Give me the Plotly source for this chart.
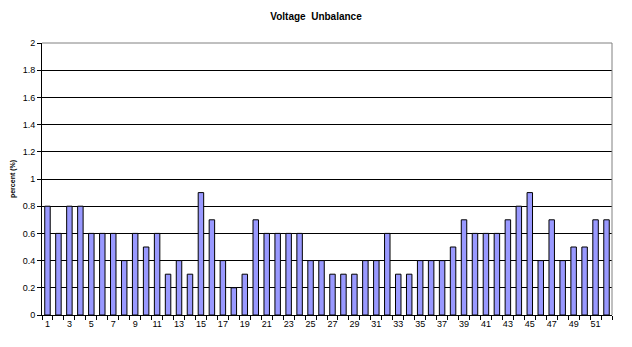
import plotly.graph_objects as go

weeks = list(range(1, 53))
unbalance = [0.8, 0.6, 0.8, 0.8, 0.6, 0.6, 0.6, 0.4, 0.6, 0.5,
             0.6, 0.3, 0.4, 0.3, 0.9, 0.7, 0.4, 0.2, 0.3, 0.7,
             0.6, 0.6, 0.6, 0.6, 0.4, 0.4, 0.3, 0.3, 0.3, 0.4,
             0.4, 0.6, 0.3, 0.3, 0.4, 0.4, 0.4, 0.5, 0.7, 0.6,
             0.6, 0.6, 0.7, 0.8, 0.9, 0.4, 0.7, 0.4, 0.5, 0.5,
             0.7, 0.7]
x_tick_labels = list(range(1, 53, 2))
y_ticks = [0, 0.2, 0.4, 0.6, 0.8, 1, 1.2, 1.4, 1.6, 1.8, 2]

fig = go.Figure(go.Bar(
    x=weeks, y=unbalance, width=0.5,
    marker=dict(color="#9999ff", line=dict(color="black", width=1)),
))

font = "Liberation Sans, Arial, sans-serif"
fig.update_layout(
    width=632, height=347,
    margin=dict(l=40, r=20, t=43, b=32),
    paper_bgcolor="white", plot_bgcolor="white",
    showlegend=False,
    title=dict(text="<b>Voltage  Unbalance</b>", x=0.5, xanchor="center",
               y=1 - 16 / 347, yanchor="middle",
               font=dict(family=font, size=10, color="black")),
    xaxis=dict(range=[0.5, 52.5], tickmode="array", tickvals=x_tick_labels,
               ticktext=[str(v) for v in x_tick_labels],
               ticks="", showgrid=False, zeroline=False,
               showline=True, linecolor="black", linewidth=1,
               tickfont=dict(family=font, size=9, color="black"),
               minor=dict(tickmode="linear", tick0=0.5, dtick=1, ticks="outside",
                          ticklen=4, tickcolor="black", showgrid=False)),
    yaxis=dict(range=[0, 2], tickmode="array", tickvals=y_ticks,
               ticktext=[f"{v:g}" for v in y_ticks],
               ticks="outside", ticklen=4, tickcolor="black",
               showgrid=True, gridcolor="black", gridwidth=1, zeroline=False,
               showline=True, linecolor="black", linewidth=1,
               tickfont=dict(family=font, size=9, color="black"),
               title=dict(text="<b>percent (%)</b>", standoff=6,
                          font=dict(family=font, size=7, color="black"))),
    shapes=[
        dict(type="line", xref="paper", yref="paper", x0=0, x1=1, y0=1, y1=1,
             line=dict(color="gray", width=1), layer="above"),
        dict(type="line", xref="paper", yref="paper", x0=1, x1=1, y0=0, y1=1,
             line=dict(color="gray", width=1), layer="above"),
    ],
)

fig.write_html("out.html")
